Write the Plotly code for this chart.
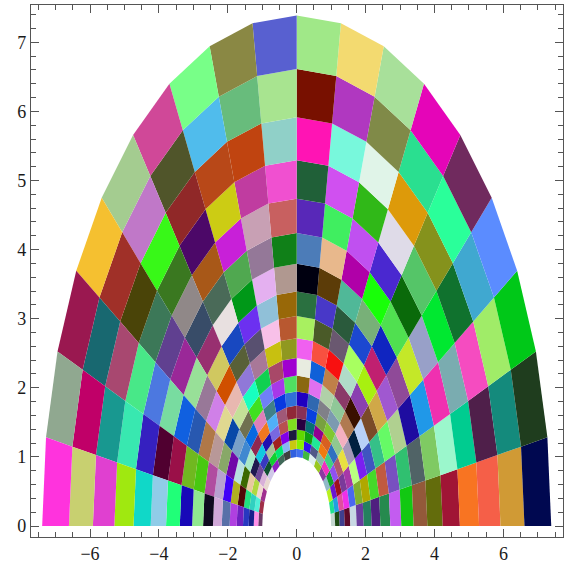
import numpy as np
import plotly.graph_objects as go

# Grid of the annular map: log-radius steps and angle steps
log_radius_edges = [i / 9 for i in range(19)]
angle_edges_deg = [i * 10 for i in range(19)]

# Cell colours, one list per angular band (0-10 deg first), inner radius to outer radius
band_00 = ["#c5d8d0","#1c4a12","#3f3f8f","#5d0a2a","#c8d8e4","#6a3c9e","#24805f","#4f1f7f","#268a4e","#c35cf0","#12c812","#93593a","#636c0c","#a01535","#f87422","#f55f48","#d09a35","#000850"]
band_01 = ["#1fe090","#22a0e0","#e04f9f","#f030e8","#4a68f0","#80b030","#b0a800","#45d92a","#c05a40","#7850c0","#30c070","#506366","#7fca63","#9bf7cc","#00cc90","#4f1f4a","#148a7c","#1f3d1e"]
band_02 = ["#b8f020","#6a15d0","#9e1020","#7a3a9a","#a838a8","#baff80","#7a20f0","#3f55c0","#35c088","#66fa66","#b0d090","#1e0ca0","#2098e8","#f030b0","#7aacb0","#f54cc0","#a0ec68","#00c818"]
band_03 = ["#90b8c8","#10a030","#9050f0","#b05870","#e8e040","#a498b8","#002040","#b8d0f8","#7a4a28","#d0a848","#a058d0","#8f4a98","#c4e828","#98a0c8","#00e830","#10722e","#40a8d0","#5b8cff"]
band_04 = ["#8a3aa0","#f030c0","#40d080","#3070c0","#90c890","#f4b0c0","#b07a50","#3a1000","#8a40b0","#a8f010","#c02070","#1025c0","#50e050","#0a6a0a","#55c568","#85921c","#2aff9a","#702a5e"]
band_05 = ["#98c820","#8ab8a8","#f07a10","#d86020","#80c830","#7c9ab0","#90c898","#8a3a68","#b0dcc8","#a8ff60","#1c48d0","#78b078","#18ff08","#4a28d0","#dfdbe8","#dd9a0a","#2adf90","#e505b8"]
band_06 = ["#e0f0f0","#505888","#20e898","#900090","#78a040","#808088","#b0d0a8","#c08048","#f81010","#6a5870","#2a5a3c","#50b898","#b000a8","#c050f0","#30b818","#e0f4e8","#808a48","#a8e09a"]
band_07 = ["#40b840","#3010f0","#10a010","#087070","#0840e0","#3068b0","#e070f0","#1060d8","#f85040","#4a5a28","#4838c8","#5c3c08","#e8b88c","#40ee60","#d050f0","#78f8dc","#b038c0","#f3da70"]
band_08 = ["#4070f0","#88f000","#60d800","#280040","#883058","#2000c0","#8a6810","#e8ece0","#f060f0","#a8f060","#2a7040","#000010","#4c7cb8","#5828b8","#206038","#ff14b4","#781000","#a0e888"]
band_09 = ["#3060e0","#c8c810","#1c1c40","#80e020","#902838","#3070d8","#50e060","#a000d0","#909820","#b85830","#986808","#b09890","#108018","#c86060","#f050d0","#90d0c8","#a8e490","#5860d0"]
band_10 = ["#404040","#88b8f0","#8000e8","#b85050","#a05878","#0838e0","#a838e8","#a84868","#c8c010","#f8c0e8","#90c0d8","#e4b0f0","#947898","#c8a0b4","#c03ca0","#c04410","#68bc7c","#8a8844"]
band_11 = ["#406858","#00e870","#a02020","#7868e0","#50b0f8","#408088","#7080f8","#10d050","#a87898","#585070","#6c30f0","#009818","#50a850","#c820d8","#cccc14","#b84818","#50bcec","#78ff88"]
band_12 = ["#9020c0","#10d030","#a8c098","#2010b0","#f07820","#e080b8","#40e020","#18ffc0","#9078d8","#586038","#1848c0","#e8e0e0","#4a6a58","#a85818","#4c0868","#902828","#50552a","#d04898"]
band_13 = ["#d0c8e8","#105030","#3838c0","#10c8e0","#902850","#0868e0","#707050","#c4e098","#e8b8b0","#d05000","#d0c860","#983070","#384c68","#908888","#3a7820","#38f818","#c078c8","#a4cc90"]
band_14 = ["#e8d8d0","#d8b0d8","#704898","#201850","#a8e8c8","#4088d0","#78a0c8","#0848a8","#e0d890","#d080e8","#987898","#98e098","#9a2898","#604090","#3c7858","#4a4408","#a03028","#f5c030"]
band_15 = ["#a03090","#f0d8d0","#b0d840","#e8c8a0","#3c6800","#b8e0e0","#7008a8","#88a868","#b89898","#b07848","#2858b0","#1060e0","#78dca0","#4c78e0","#48e888","#a84870","#186870","#9a1850"]
band_16 = ["#a03048","#50f0d8","#30d0c0","#20e080","#500808","#b0b020","#4000f8","#b8a0d0","#b04ca0","#48c810","#70b820","#9a1048","#500030","#3520c0","#38e8b0","#189890","#c00068","#90a890"]
band_17 = ["#6a3a68","#ff90e8","#18208c","#2838c0","#7020c0","#b040e0","#5870a8","#d0a8d8","#100a20","#90e890","#1808b8","#20ff78","#90cce8","#10d8c8","#a0e810","#e040d0","#c8d070","#ff33dd"]
bands = [band_00, band_01, band_02, band_03, band_04, band_05, band_06, band_07, band_08,
         band_09, band_10, band_11, band_12, band_13, band_14, band_15, band_16, band_17]

x_major_ticks = [-6, -4, -2, 0, 2, 4, 6]
y_major_ticks = [0, 1, 2, 3, 4, 5, 6, 7]
x_range = [-7.713, 7.73]
y_range = [-0.159, 7.54]

fig = go.Figure()
radii = np.exp(log_radius_edges)
angles = np.radians(angle_edges_deg)
for j, band in enumerate(bands):
    for i, colour in enumerate(band):
        rr = radii[[i, i + 1, i + 1, i, i]]
        aa = angles[[j, j, j + 1, j + 1, j]]
        fig.add_trace(go.Scatter(
            x=rr * np.cos(aa), y=rr * np.sin(aa), mode="lines", fill="toself",
            fillcolor=colour, line=dict(width=0, color=colour),
            hoverinfo="skip", showlegend=False))

# Empty trace that activates the mirrored top/right axes of the frame
fig.add_trace(go.Scatter(x=[None], y=[None], xaxis="x2", yaxis="y2", mode="lines",
                         hoverinfo="skip", showlegend=False))

frame = "#555555"
axis_common = dict(
    automargin=False, showgrid=False, zeroline=False, showline=True, linecolor=frame, linewidth=1.2,
    ticks="inside", tickcolor=frame, tickwidth=1, ticklen=8,
    tickfont=dict(family="Liberation Serif", size=18, color="#1a1a1a"),
)
minor_x = dict(dtick=0.5, ticks="inside", ticklen=5, tickcolor=frame, tickwidth=1, showgrid=False)
minor_y = dict(dtick=0.2, ticks="inside", ticklen=5, tickcolor=frame, tickwidth=1, showgrid=False)
fig.update_layout(
    width=569, height=566, autosize=False, plot_bgcolor="white", paper_bgcolor="white",
    margin=dict(l=31, r=6, t=5, b=29),
    xaxis=dict(range=x_range, tickvals=x_major_ticks, minor=minor_x, **axis_common),
    yaxis=dict(range=y_range, tickvals=y_major_ticks, minor=minor_y, **axis_common),
    xaxis2=dict(range=x_range, tickvals=x_major_ticks, minor=minor_x, overlaying="x", side="top",
                anchor="y2", showticklabels=False, **axis_common),
    yaxis2=dict(range=y_range, tickvals=y_major_ticks, minor=minor_y, overlaying="y", side="right",
                anchor="x2", showticklabels=False, **axis_common),
)
fig.write_html("out.html", config={"displayModeBar": False},
               post_script="document.body.style.margin='0';document.documentElement.style.overflow='hidden';")
